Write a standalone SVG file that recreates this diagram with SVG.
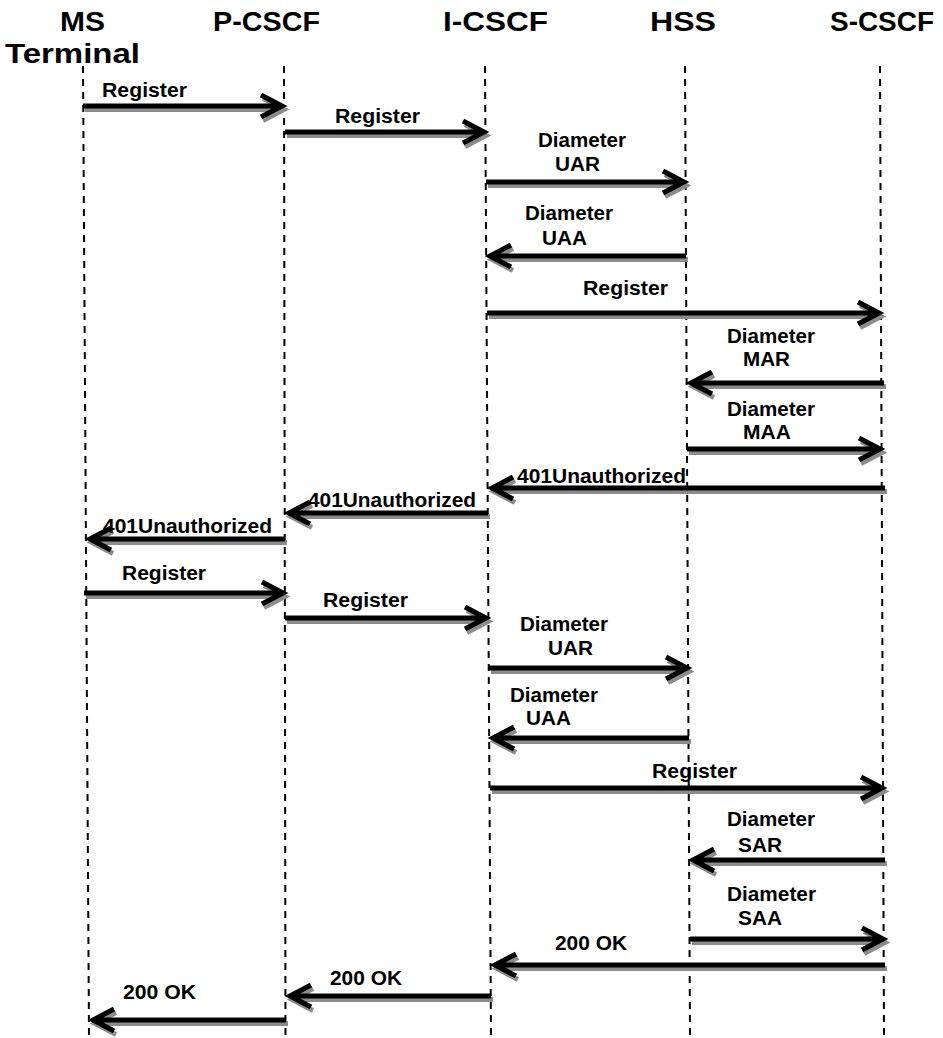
<svg xmlns="http://www.w3.org/2000/svg" width="943" height="1038" viewBox="0 0 943 1038">
<style>
.title{font-family:"Liberation Sans",Arial,sans-serif;font-weight:bold;font-size:28px;fill:#000}
.lbl{font-family:"Liberation Sans",Arial,sans-serif;font-weight:bold;font-size:19.5px;fill:#000}
.life{stroke:#000;stroke-width:2;stroke-dasharray:7 6;fill:none}
.sh{stroke:#8c8c8c;stroke-width:5;fill:none;stroke-linejoin:miter}
.ar{stroke:#000;stroke-width:5;fill:none;stroke-linejoin:miter}
</style>
<rect width="943" height="1038" fill="#fff"/>
<g id="node-ms">
<text class="title" x="60" y="31" textLength="45" lengthAdjust="spacingAndGlyphs">MS</text>
<text class="title" x="5" y="63" textLength="135" lengthAdjust="spacingAndGlyphs">Terminal</text>
<line class="life" x1="83" y1="66" x2="89" y2="1035"/>
</g>
<g id="node-pcscf">
<text class="title" x="213" y="31" textLength="107" lengthAdjust="spacingAndGlyphs">P-CSCF</text>
<line class="life" x1="284" y1="66" x2="285.5" y2="1035"/>
</g>
<g id="node-icscf">
<text class="title" x="443" y="31" textLength="105" lengthAdjust="spacingAndGlyphs">I-CSCF</text>
<line class="life" x1="485" y1="66" x2="491" y2="1035"/>
</g>
<g id="node-hss">
<text class="title" x="650" y="31" textLength="66" lengthAdjust="spacingAndGlyphs">HSS</text>
<line class="life" x1="685" y1="66" x2="690" y2="1035"/>
</g>
<g id="node-scscf">
<text class="title" x="830" y="31" textLength="104" lengthAdjust="spacingAndGlyphs">S-CSCF</text>
<line class="life" x1="880" y1="66" x2="884" y2="1035"/>
</g>
<g id="connectors">
<g id="shadows" transform="translate(2,3.5)">
<path class="sh" d="M83 106H282M261 95L282 106L261 117"/>
<path class="sh" d="M285 132H484M463 121L484 132L463 143"/>
<path class="sh" d="M486 182H684M663 171L684 182L663 193"/>
<path class="sh" d="M686 256H490M511 245L490 256L511 267"/>
<path class="sh" d="M487 313H879M858 302L879 313L858 324"/>
<path class="sh" d="M884 383H691M712 372L691 383L712 394"/>
<path class="sh" d="M687 449H880M859 438L880 449L859 460"/>
<path class="sh" d="M885 488H492M513 477L492 488L513 499"/>
<path class="sh" d="M488 513H289M310 502L289 513L310 524"/>
<path class="sh" d="M285 539H90M111 528L90 539L111 550"/>
<path class="sh" d="M84 593H283M262 582L283 593L262 604"/>
<path class="sh" d="M285 618H486M465 607L486 618L465 629"/>
<path class="sh" d="M489 668H687M666 657L687 668L666 679"/>
<path class="sh" d="M689 738H493M514 727L493 738L514 749"/>
<path class="sh" d="M490 788H882M861 777L882 788L861 799"/>
<path class="sh" d="M885 860H693M714 849L693 860L714 871"/>
<path class="sh" d="M690 939H883M862 928L883 939L862 950"/>
<path class="sh" d="M885 965H495M516 954L495 965L516 976"/>
<path class="sh" d="M491 996H290M311 985L290 996L311 1007"/>
<path class="sh" d="M286 1020H93M114 1009L93 1020L114 1031"/>
</g>
<g id="arrows">
<path class="ar" d="M83 106H282M261 95L282 106L261 117"/>
<path class="ar" d="M285 132H484M463 121L484 132L463 143"/>
<path class="ar" d="M486 182H684M663 171L684 182L663 193"/>
<path class="ar" d="M686 256H490M511 245L490 256L511 267"/>
<path class="ar" d="M487 313H879M858 302L879 313L858 324"/>
<path class="ar" d="M884 383H691M712 372L691 383L712 394"/>
<path class="ar" d="M687 449H880M859 438L880 449L859 460"/>
<path class="ar" d="M885 488H492M513 477L492 488L513 499"/>
<path class="ar" d="M488 513H289M310 502L289 513L310 524"/>
<path class="ar" d="M285 539H90M111 528L90 539L111 550"/>
<path class="ar" d="M84 593H283M262 582L283 593L262 604"/>
<path class="ar" d="M285 618H486M465 607L486 618L465 629"/>
<path class="ar" d="M489 668H687M666 657L687 668L666 679"/>
<path class="ar" d="M689 738H493M514 727L493 738L514 749"/>
<path class="ar" d="M490 788H882M861 777L882 788L861 799"/>
<path class="ar" d="M885 860H693M714 849L693 860L714 871"/>
<path class="ar" d="M690 939H883M862 928L883 939L862 950"/>
<path class="ar" d="M885 965H495M516 954L495 965L516 976"/>
<path class="ar" d="M491 996H290M311 985L290 996L311 1007"/>
<path class="ar" d="M286 1020H93M114 1009L93 1020L114 1031"/>
</g>
<g id="labels">
<text class="lbl" x="102" y="97" textLength="85" lengthAdjust="spacingAndGlyphs">Register</text>
<text class="lbl" x="335" y="123" textLength="85" lengthAdjust="spacingAndGlyphs">Register</text>
<text class="lbl" x="538" y="147" textLength="88" lengthAdjust="spacingAndGlyphs">Diameter</text>
<text class="lbl" x="555" y="171" textLength="45" lengthAdjust="spacingAndGlyphs">UAR</text>
<text class="lbl" x="525" y="220" textLength="88" lengthAdjust="spacingAndGlyphs">Diameter</text>
<text class="lbl" x="542" y="245" textLength="45" lengthAdjust="spacingAndGlyphs">UAA</text>
<text class="lbl" x="583" y="295" textLength="85" lengthAdjust="spacingAndGlyphs">Register</text>
<text class="lbl" x="727" y="343" textLength="88" lengthAdjust="spacingAndGlyphs">Diameter</text>
<text class="lbl" x="743" y="366" textLength="47" lengthAdjust="spacingAndGlyphs">MAR</text>
<text class="lbl" x="727" y="416" textLength="88" lengthAdjust="spacingAndGlyphs">Diameter</text>
<text class="lbl" x="743" y="439" textLength="48" lengthAdjust="spacingAndGlyphs">MAA</text>
<text class="lbl" x="517" y="483" textLength="169" lengthAdjust="spacingAndGlyphs">401Unauthorized</text>
<text class="lbl" x="308" y="507" textLength="168" lengthAdjust="spacingAndGlyphs">401Unauthorized</text>
<text class="lbl" x="103" y="533" textLength="169" lengthAdjust="spacingAndGlyphs">401Unauthorized</text>
<text class="lbl" x="122" y="580" textLength="84" lengthAdjust="spacingAndGlyphs">Register</text>
<text class="lbl" x="323" y="607" textLength="85" lengthAdjust="spacingAndGlyphs">Register</text>
<text class="lbl" x="520" y="631" textLength="88" lengthAdjust="spacingAndGlyphs">Diameter</text>
<text class="lbl" x="548" y="655" textLength="45" lengthAdjust="spacingAndGlyphs">UAR</text>
<text class="lbl" x="510" y="702" textLength="88" lengthAdjust="spacingAndGlyphs">Diameter</text>
<text class="lbl" x="526" y="725" textLength="45" lengthAdjust="spacingAndGlyphs">UAA</text>
<text class="lbl" x="652" y="778" textLength="85" lengthAdjust="spacingAndGlyphs">Register</text>
<text class="lbl" x="727" y="826" textLength="88" lengthAdjust="spacingAndGlyphs">Diameter</text>
<text class="lbl" x="738" y="852" textLength="44" lengthAdjust="spacingAndGlyphs">SAR</text>
<text class="lbl" x="727" y="901" textLength="89" lengthAdjust="spacingAndGlyphs">Diameter</text>
<text class="lbl" x="738" y="925" textLength="44" lengthAdjust="spacingAndGlyphs">SAA</text>
<text class="lbl" x="555" y="950" textLength="72" lengthAdjust="spacingAndGlyphs">200 OK</text>
<text class="lbl" x="330" y="985" textLength="72" lengthAdjust="spacingAndGlyphs">200 OK</text>
<text class="lbl" x="123" y="999" textLength="73" lengthAdjust="spacingAndGlyphs">200 OK</text>
</g>
</g>
</svg>
